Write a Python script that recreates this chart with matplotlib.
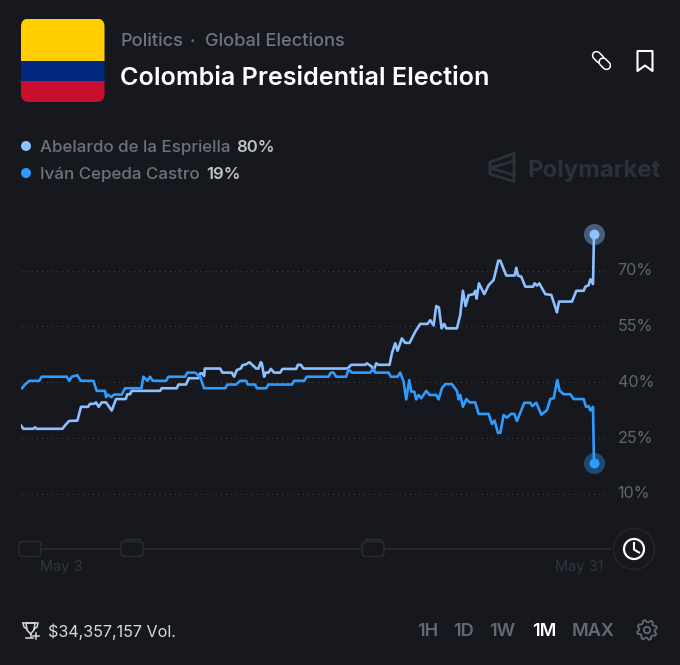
import numpy as np
import matplotlib
matplotlib.use("Agg")
import matplotlib.pyplot as plt
from matplotlib.patches import FancyBboxPatch, Circle, Rectangle, Polygon

plt.rcParams['font.family'] = ['Inter', 'DejaVu Sans']

# time in sample steps since the start of the window (about 23.5 minutes per step)
t_abelardo = [0,7,37,42,47,124,132,144,169,180,201,207,219,225,233,242,255,272,285,314,319,327,332,417,422,467,472,495,503,532,537,544,549,551,597,604,632,639,647,659,664,674,685,705,712,719,722,729,734,742,749,759,777,784,825,830,839,847,957,
              979,990,1032,1037,1052,1057,1065,1072,1105,1112,1122,1129,1142,1152,1165,1182,1197,1219,1227,1237,1245,1253,1261,1269,1275,1307,1317,1325,1333,1342,1357,1362,1366,1373,1389,1402,1417,1431,1437,1455,1480,1485,1490,1500,1512,1535,1540,1547,1554,1572,1590,1607,1613,1652,1665,1687,1692,1702,1707,1715,1718]
p_abelardo = [28.4,27.5,27.5,27.9,27.5,27.5,28.4,29.6,29.7,33.4,33.4,34.2,34.2,34.6,33.4,34.6,34.6,32.4,35.5,35.5,36.8,36.8,37.7,37.7,38.4,38.4,39.4,39.4,41.1,41.1,42.4,42.4,41.7,43.7,43.7,42.6,42.6,41.5,43.3,43.7,44.6,44.8,45.4,43.7,43.7,45.4,45.1,41.5,42.6,42.6,43.6,42.6,42.6,43.6,43.6,44.7,44.7,43.7,43.7,
              43.7,44.7,44.7,45.1,44.2,43.1,45.1,44.7,44.7,47.8,50.5,48.5,51.8,50.6,50.6,53.6,55.7,55.7,56.7,55.3,60.5,60.1,54.5,55.7,54.5,54.5,58.1,64.6,60.5,63.4,63.7,64.6,62.5,66.6,63.7,66.1,67.5,72.7,72.7,68.7,68.7,70.8,68.7,68.4,65.7,65.7,66.6,66,66.6,63.7,63.5,58.8,61.7,61.7,64.6,64.6,65.7,66.1,67.7,66.4,79.9]
t_cepeda = [3,12,25,55,62,137,145,152,169,179,217,227,252,255,260,271,279,302,312,361,367,379,387,395,435,442,492,499,522,537,549,612,619,645,657,675,680,702,707,735,742,812,819,849,857,922,929,937,945,
            975,982,992,1047,1057,1062,1102,1109,1129,1137,1147,1155,1164,1170,1179,1185,1192,1200,1215,1225,1245,1252,1262,1272,1292,1307,1312,1317,1325,1335,1345,1362,1372,1402,1412,1420,1430,1437,1447,1457,1469,1479,1487,1509,1527,1533,1545,1560,1577,1587,1597,1608,1615,1627,1647,1657,1687,1694,1702,1707,1715,1718]
p_cepeda = [38.4,39.4,40.4,40.4,41.5,41.5,40.4,41.5,41.9,40.4,40.4,37.7,37.7,36,36.7,36,36.7,36.7,38.4,38.4,41.5,40.4,41.5,40.4,40.4,41.5,41.5,42.6,42.6,41.5,38.4,38.4,39.4,39.4,40.4,40.4,39.4,39.4,38.4,38.4,39.4,39.4,40.4,40.4,41.5,41.5,42.6,42.6,41.5,
            41.5,43.5,42.6,42.6,43.7,42.6,42.6,41.5,41.5,42.6,40.2,35.4,40.6,37.5,37.5,35.4,36.6,35.7,37.7,36.6,36.6,35.4,38.4,39.5,39.5,37.7,35.4,36.6,33.4,35.5,34.6,34.6,31.5,31.5,28.8,29.7,26.4,26.4,31.2,30.5,31.5,31.5,29.6,34.5,34.5,33.6,34.5,31.3,32.5,35.5,35.7,40.6,37.7,36.8,36.8,35.5,35.5,33.4,33.6,32.4,33.4,18.2]
y_ticks = [10, 25, 40, 55, 70]
y_labels = ['10%', '25%', '40%', '55%', '70%']
date_ticks = [120, 1674]
date_labels = ['May 3', 'May 31']
names = ['Abelardo de la Espriella', 'Iván Cepeda Castro']
shares = ['80%', '19%']
ranges = ['1H', '1D', '1W', '1M', 'MAX']

BG = '#16181D'
C_A = '#8CC0FF'
C_B = '#2E9BFF'
W, H = 680, 665

fig = plt.figure(figsize=(W / 100, H / 100), dpi=100, facecolor=BG)

# page layer in pixel units
pg = fig.add_axes([0, 0, 1, 1], zorder=0)
pg.set_xlim(0, W); pg.set_ylim(H, 0); pg.axis('off')

# chart
L, R, T, B = 21, 608, 220, 500
ax = fig.add_axes([L / W, 1 - B / H, (R - L) / W, (B - T) / H], zorder=2)
ax.patch.set_alpha(0)
ax.set_xlim(0, 1718 * (R - L) / 573)
ax.set_ylim(70 - (B - 270.7) / 3.72, 70 - (T - 270.7) / 3.72)
for s in ax.spines.values():
    s.set_visible(False)
ax.yaxis.tick_right()
ax.set_yticks(y_ticks, y_labels)
ax.set_xticks(date_ticks, date_labels)
ax.tick_params(axis='y', length=0, pad=7, labelsize=11.6, labelcolor='#5F656E')
for lab in ax.get_yticklabels():
    lab.set_verticalalignment('center')
ax.tick_params(axis='x', length=0, pad=43, labelsize=10.5, labelcolor='#30343D')
ax.grid(axis='y', color='#3E4148', lw=0.8, linestyle=(0, (1, 3.6)))
ax.set_axisbelow(True)
ax.plot(t_abelardo, p_abelardo, color=C_A, lw=1.9, solid_joinstyle='round', zorder=3)
ax.plot(t_cepeda, p_cepeda, color=C_B, lw=1.9, solid_joinstyle='round', zorder=4)
ax.scatter(t_abelardo[-1], p_abelardo[-1], s=230, color=C_A, alpha=0.42, lw=0, zorder=5)
ax.scatter(t_cepeda[-1], p_cepeda[-1], s=230, color=C_B, alpha=0.38, lw=0, zorder=5)
ax.scatter(t_abelardo[-1], p_abelardo[-1], s=52, color=C_A, lw=0, zorder=6)
ax.scatter(t_cepeda[-1], p_cepeda[-1], s=52, color=C_B, lw=0, zorder=6)

# flag
clip = FancyBboxPatch((21, 18.5), 83.5, 83.5, boxstyle='round,pad=0,rounding_size=8', fc='none', ec='none')
pg.add_patch(clip)
for y0, h, c in [(18.5, 42, '#FFCD00'), (60.5, 20.7, '#00287F'), (81.2, 21, '#C8102E')]:
    r = Rectangle((21, y0), 83.5, h, fc=c, ec='none')
    pg.add_patch(r)
    r.set_clip_path(clip)

# header text
def txt(x, y, s, size, color, weight='normal', ha='left'):
    return pg.text(x, y, s, fontsize=size, color=color, fontweight=weight, ha=ha, va='center_baseline')

txt(120.5, 40, 'Politics', 13.1, '#6E7582', 'medium')
txt(190, 40, '·', 13, '#6E7582', 'medium')
txt(205, 40, 'Global Elections', 13.1, '#6E7582', 'medium')
txt(120.5, 76, 'Colombia Presidential Election', 18.1, '#FFFFFF', 'semibold')

# legend
for y, c, n, s, sx in zip([146, 173], [C_A, C_B], names, shares, [236.5, 206.5]):
    pg.add_patch(Circle((26, y), 5, fc=c, ec='none'))
    txt(40, y, n, 12.2, '#6C7380', 'medium')
    txt(sx, y, s, 12, '#BFC4CC', 'semibold')

# watermark
LOGO = '#2A3139'
pg.add_patch(Polygon([(514, 153.5), (490, 162), (490, 174), (514, 181.5)], closed=True, fc='none', ec=LOGO, lw=2))
pg.plot([490, 514], [168, 161], color=LOGO, lw=2)
pg.plot([490, 514], [168, 175], color=LOGO, lw=2)
txt(527.5, 168, 'Polymarket', 17.2, LOGO, 'bold')

# link icon: two overlapping loops, the later one drawn over the earlier one
for k, (a, b) in enumerate([((596.5, 55.5), (600, 59)), ((603, 62), (606.5, 65.5))]):
    pg.plot(*zip(a, b), color='white', lw=6.8, solid_capstyle='round', zorder=3 + k)
    pg.plot(*zip(a, b), color=BG, lw=4.6, solid_capstyle='round', zorder=3 + k)
# bookmark icon
pg.add_patch(Polygon([(637.5, 51), (652.5, 51), (652.5, 71), (645, 65.5), (637.5, 71)], closed=True, fc='none', ec='white', lw=1.5, joinstyle='round'))

# range slider
SL = '#24272E'
pg.plot([21, 610], [549, 549], color=SL, lw=1.5, zorder=1)
for cx in [30, 132, 373]:
    pg.add_patch(FancyBboxPatch((cx - 11, 541.5), 22, 15, boxstyle='round,pad=0,rounding_size=4', fc=BG, ec='#2A2D33', lw=1, zorder=2))
for cx in [132, 373]:
    pg.plot([cx - 8, cx + 8], [538.5, 538.5], color='#2A2D33', lw=1, zorder=2)

# clock button
pg.add_patch(Circle((634, 549), 20.5, fc=BG, ec=SL, lw=1, zorder=2))
pg.add_patch(Circle((634, 549), 10, fc='none', ec='white', lw=1.6, zorder=3))
pg.plot([634, 634, 639], [543, 549.5, 552.5], color='white', lw=1.5, zorder=3)

# volume
TR = '#D5D8DD'
pg.plot([23, 37], [623, 623], color=TR, lw=1.1)
pg.add_patch(Polygon([(26, 623), (27, 630), (30.5, 634), (34, 630), (35, 623)], closed=True, fc='none', ec=TR, lw=1.1))
pg.plot([23, 24, 27], [623, 627, 629], color=TR, lw=1.1)
pg.plot([38, 37, 34], [623, 627, 629], color=TR, lw=1.1)
pg.plot([30.5, 30.5], [634, 637], color=TR, lw=1.1)
pg.plot([26, 33], [637.5, 637.5], color=TR, lw=1.1)
pg.plot([33, 39], [636, 636], color=TR, lw=1.1)
pg.plot([36, 36], [633, 639], color=TR, lw=1.1)
txt(47.5, 630, '$34,357,157 Vol.', 11.6, TR)

# range buttons
for x, s in zip([427.5, 464, 502.5, 544, 593], ranges):
    txt(x, 630, s, 13, '#FFFFFF' if s == '1M' else '#626A76', 'semibold', ha='center')

# settings icon
GC = '#626A76'
n_teeth = 8
ang = np.linspace(0, 2 * np.pi, n_teeth * 4, endpoint=False) + np.pi / 8
rad = np.tile([10, 10, 7.8, 7.8], n_teeth)
pg.add_patch(Polygon(np.c_[647 + rad * np.cos(ang), 630 + rad * np.sin(ang)], closed=True, fc='none', ec=GC, lw=1.3, joinstyle='round'))
pg.add_patch(Circle((647, 630), 3.2, fc='none', ec=GC, lw=1.3))

fig.savefig('out.png', dpi=100, facecolor=BG)
